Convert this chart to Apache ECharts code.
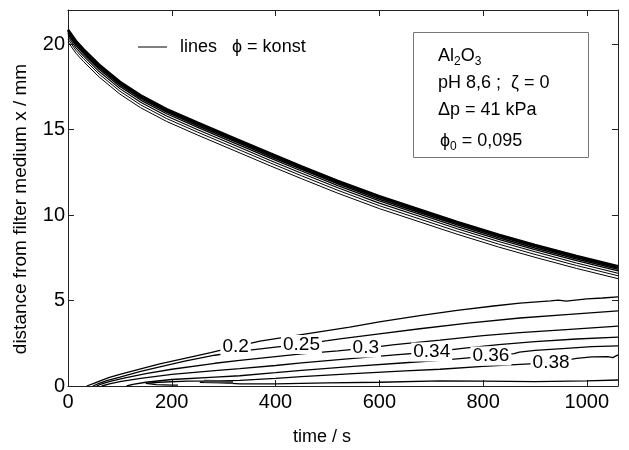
<!DOCTYPE html>
<html><head><meta charset="utf-8">
<script src="https://cdn.jsdelivr.net/npm/echarts@6/dist/echarts.min.js"></script>
<style>html,body{margin:0;padding:0;background:#fff}#c{width:629px;height:450px}</style>
</head><body><div id="c"></div>
<script>
// ---- data ----
const xTickLabels = [0, 200, 400, 600, 800, 1000];
const yTickLabels = [0, 5, 10, 15, 20];

// upper band: lines phi = konst near the suspension surface
const bandT = [0, 15, 30, 60, 100, 140, 190, 250, 320, 390, 450, 520, 600, 680, 750, 830, 900, 980, 1060];
const band1 = [20.85,20.2,19.7,18.8,17.8,17.0,16.2,15.4,14.5,13.6,12.85,12.0,11.1,10.3,9.6,8.85,8.25,7.6,7.0];
const band2 = [20.77,20.12,19.62,18.72,17.72,16.92,16.12,15.32,14.42,13.52,12.77,11.92,11.02,10.22,9.52,8.77,8.17,7.52,6.92];
const band3 = [20.68,20.03,19.53,18.63,17.63,16.83,16.03,15.23,14.33,13.43,12.68,11.83,10.93,10.13,9.43,8.68,8.08,7.43,6.83];
const band4 = [20.58,19.93,19.43,18.53,17.53,16.73,15.93,15.13,14.23,13.33,12.58,11.73,10.83,10.03,9.33,8.58,7.98,7.33,6.73];
const band5 = [20.45,19.8,19.3,18.4,17.4,16.6,15.8,15.0,14.1,13.2,12.45,11.6,10.7,9.9,9.2,8.45,7.85,7.2,6.6];
const band6 = [20.3,19.65,19.15,18.25,17.25,16.45,15.65,14.85,13.95,13.05,12.3,11.45,10.55,9.75,9.05,8.3,7.7,7.05,6.45];
const band7 = [20.13,19.48,18.98,18.08,17.08,16.28,15.48,14.68,13.78,12.88,12.13,11.28,10.38,9.58,8.88,8.13,7.53,6.88,6.28];

// lower contours [time, distance]
const c020 = [[36,0],[50,0.15],[62,0.3],[80,0.5],[100,0.68],[140,1.0],[177,1.3],[225,1.62],[275,1.95],[323,2.31],[370,2.62],[450,3.0],[543,3.45],[600,3.75],[678,4.12],[750,4.42],[820,4.68],[871,4.85],[930,4.98],[945,5.03],[960,4.97],[1000,5.1],[1030,5.15],[1060,5.22]];
const c025 = [[48,0],[60,0.15],[75,0.32],[100,0.52],[140,0.85],[177,1.12],[225,1.45],[283,1.8],[350,2.1],[400,2.27],[450,2.43],[500,2.65],[524,2.76],[600,3.05],[678,3.35],[771,3.68],[871,3.98],[960,4.18],[1060,4.4]];
const c030 = [[55,0],[68,0.15],[85,0.3],[110,0.48],[150,0.72],[200,0.98],[283,1.33],[331,1.5],[400,1.72],[450,1.88],[520,2.05],[574,2.22],[630,2.42],[717,2.68],[800,2.95],[871,3.12],[960,3.3],[1060,3.5]];
const c034 = [[65,0],[80,0.12],[100,0.25],[140,0.45],[200,0.68],[283,0.9],[331,1.02],[400,1.2],[450,1.35],[550,1.62],[630,1.82],[701,1.99],[760,2.2],[830,2.42],[900,2.6],[980,2.75],[1060,2.86]];
const c036 = [[113,0],[125,0.1],[150,0.22],[200,0.38],[283,0.52],[331,0.6],[400,0.78],[450,0.92],[550,1.15],[650,1.36],[717,1.5],[815,1.76],[860,1.9],[870,1.98],[900,2.08],[960,2.2],[1010,2.3],[1060,2.35]];
const c038 = [[150,0.15],[175,0.22],[230,0.28],[283,0.3],[331,0.33],[400,0.45],[450,0.55],[550,0.72],[650,0.88],[717,0.98],[800,1.15],[880,1.28],[931,1.35],[980,1.62],[1010,1.7],[1040,1.72],[1050,1.66],[1060,1.82]];
const c038low = [[150,0.15],[170,0.08],[200,0.05],[212,0.05]];
const c040 = [[254,0.22],[300,0.18],[331,0.12],[400,0.12],[500,0.18],[600,0.22],[717,0.3],[800,0.28],[900,0.26],[1000,0.3],[1060,0.35]];
const c040blob = [[262,0.28],[290,0.26],[318,0.2]];

const contourLabels = ['0.2', '0.25', '0.3', '0.34', '0.36', '0.38'];
const labelT = [323, 450, 574, 701, 815, 931];
const labelY = [2.31, 2.43, 2.22, 1.99, 1.76, 1.35];

// ---- chart ----
const FONT = 'Liberation Sans, Arial, Helvetica, sans-serif';
const chart = echarts.init(document.getElementById('c'), null, {renderer: 'canvas'});

function lineSeries(data, width, color) {
  return {type: 'line', data: data, showSymbol: false, symbol: 'none', silent: true,
    lineStyle: {color: color || '#000', width: width}, z: 2, animation: false};
}
const bands = [band1, band2, band3, band4, band5, band6, band7];
const bandWidths = [2.6, 2, 1.6, 1.3, 1.1, 1, 1];
const series = [];
bands.forEach((b, k) => series.push(lineSeries(bandT.map((t, i) => [t, b[i]]), bandWidths[k])));
[c020, c025, c030, c034, c036, c038, c038low, c040].forEach(c => series.push(lineSeries(c, 1.3)));
series.push(lineSeries(c040blob, 3, '#444'));
series.push({
  type: 'scatter', symbolSize: 1, itemStyle: {color: '#fff', opacity: 1}, z: 5, silent: true,
  data: labelT.map((t, i) => ({value: [t, labelY[i]], name: contourLabels[i]})),
  label: {show: true, position: 'inside', formatter: p => p.name, color: '#000', opacity: 1,
    textBorderWidth: 0, fontSize: 19, fontFamily: FONT, backgroundColor: '#fff', padding: [0, 2]}
});

const axisCommon = {
  axisLine: {show: true, onZero: false, lineStyle: {color: '#222', width: 1}},
  axisTick: {show: true, inside: true, length: 6, lineStyle: {color: '#222'}},
  splitLine: {show: false}
};

const richSub = {
  m: {fontSize: 18, fontFamily: FONT, lineHeight: 24, color: '#000'},
  s: {fontSize: 12, fontFamily: FONT, lineHeight: 12, verticalAlign: 'bottom', color: '#000'}
};

chart.setOption({
  animation: false,
  grid: {left: 68, right: 11, top: 10, bottom: 64, containLabel: false},
  xAxis: [
    Object.assign({type: 'value', min: 0, max: 1060, interval: 200, position: 'bottom',
      axisLabel: {color: '#000', fontSize: 20, fontFamily: FONT, margin: 6,
        formatter: v => xTickLabels.includes(v) ? String(v) : ''}}, axisCommon),
    Object.assign({type: 'value', min: 0, max: 1060, interval: 200, position: 'top',
      axisLabel: {show: false}}, axisCommon)
  ],
  yAxis: [
    Object.assign({type: 'value', min: 0, max: 22, interval: 5, position: 'left',
      axisLabel: {color: '#000', fontSize: 20, fontFamily: FONT, margin: 3,
        formatter: v => yTickLabels.includes(v) ? String(v) : ''}}, axisCommon),
    Object.assign({type: 'value', min: 0, max: 22, interval: 5, position: 'right',
      axisLabel: {show: false}}, axisCommon)
  ],
  series: series,
  graphic: [
    {type: 'text', x: 322, y: 437, style: {text: 'time / s', fill: '#000', font: '18px ' + FONT, align: 'center', verticalAlign: 'middle'}},
    {type: 'text', x: 21, y: 209, rotation: Math.PI / 2, style: {text: 'distance from filter medium x / mm', fill: '#000', font: '19px ' + FONT, align: 'center', verticalAlign: 'middle'}},
    // legend
    {type: 'line', shape: {x1: 138, y1: 47, x2: 167, y2: 47}, style: {stroke: '#000', lineWidth: 1}},
    {type: 'text', x: 180, y: 47, style: {text: 'lines   ϕ = konst', fill: '#000', font: '18px ' + FONT, align: 'left', verticalAlign: 'middle'}},
    // info box
    {type: 'rect', shape: {x: 413.5, y: 32.5, width: 175, height: 125}, style: {fill: '#fff', stroke: '#777', lineWidth: 1}, z: 10},
    {type: 'text', x: 438, y: 56, z: 11, style: {text: '{m|Al}{s|2}{m|O}{s|3}', align: 'left', verticalAlign: 'middle', rich: richSub}},
    {type: 'text', x: 438, y: 83, z: 11, style: {text: 'pH 8,6 ;  ζ = 0', fill: '#000', font: '18px ' + FONT, align: 'left', verticalAlign: 'middle'}},
    {type: 'text', x: 438, y: 110, z: 11, style: {text: 'Δp = 41 kPa', fill: '#000', font: '18px ' + FONT, align: 'left', verticalAlign: 'middle'}},
    {type: 'text', x: 440, y: 141, z: 11, style: {text: '{m|ϕ}{s|0}{m| = 0,095}', align: 'left', verticalAlign: 'middle', rich: richSub}}
  ]
});
</script>
</body></html>
